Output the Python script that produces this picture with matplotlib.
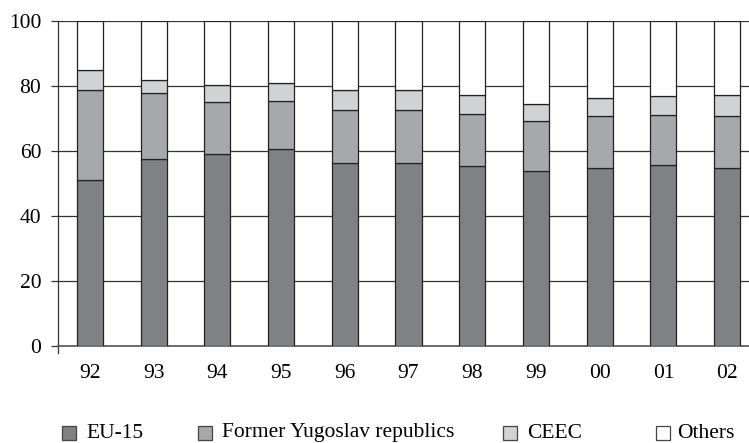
import matplotlib
matplotlib.use("Agg")
import matplotlib.pyplot as plt
from matplotlib.patches import Rectangle
import numpy as np

years = ["92", "93", "94", "95", "96", "97", "98", "99", "00", "01", "02"]
eu15 = [51.0, 57.6, 59.1, 60.5, 56.2, 56.2, 55.3, 53.7, 54.8, 55.8, 54.8]
former_yugoslav = [27.8, 20.1, 15.9, 14.9, 16.3, 16.3, 16.2, 15.4, 15.9, 15.3, 15.9]
ceec = [6.2, 4.3, 5.2, 5.4, 6.3, 6.3, 5.8, 5.4, 5.7, 5.7, 6.6]
others = [100 - a - b - c for a, b, c in zip(eu15, former_yugoslav, ceec)]

series_names = ["EU-15", "Former Yugoslav republics", "CEEC", "Others"]
colors = ["#808184", "#a7a8ab", "#d1d2d4", "#ffffff"]

plt.rcParams['font.family'] = ['Liberation Serif', 'DejaVu Serif']
FS = 15.5

W, H = 749, 443
fig = plt.figure(figsize=(W / 100, H / 100), dpi=100)
ax_left, ax_right, ax_top, ax_bottom = 58, 759, 21, 346
ax = fig.add_axes([ax_left / W, 1 - ax_bottom / H, (ax_right - ax_left) / W, (ax_bottom - ax_top) / H])

x = np.arange(len(years))
bottom = np.zeros(len(years))
for vals, col in zip([eu15, former_yugoslav, ceec, others], colors):
    ax.bar(x, vals, width=0.41, bottom=bottom, color=col, edgecolor="#222222", linewidth=0.9, zorder=3)
    bottom += np.array(vals)

ax.set_xlim(-0.5, 10.5)
ax.set_ylim(0, 100)
ax.set_yticks([0, 20, 40, 60, 80, 100])
ax.set_xticks(x)
ax.set_xticklabels(years)
ax.yaxis.grid(True, color="#333333", linewidth=0.9, zorder=0)
ax.set_axisbelow(True)
for s in ["top", "right"]:
    ax.spines[s].set_visible(False)
ax.spines["bottom"].set_color("#555555")
ax.spines["bottom"].set_linewidth(1.2)
ax.spines["left"].set_color("#333333")
ax.spines["left"].set_linewidth(0.9)
ax.spines["left"].set_bounds(-2, 100)
ax.tick_params(axis="y", length=5, width=0.9, pad=7, labelsize=FS, color="#333333")
ax.tick_params(axis="x", length=0, pad=13, labelsize=FS)

# legend
box_y = 426
box = 14
box_x = [62, 198, 503, 656]
text_x = [86, 222, 527, 677]
for bx, tx, col, name in zip(box_x, text_x, colors, series_names):
    fig.patches.append(Rectangle((bx / W, 1 - (box_y + box) / H), box / W, box / H,
                                 transform=fig.transFigure, facecolor=col,
                                 edgecolor="#444444", linewidth=0.9))
    fig.text(tx / W, 1 - (box_y + box / 2) / H, name, fontsize=FS, va="center", ha="left")

fig.savefig("out.png", dpi=100)
